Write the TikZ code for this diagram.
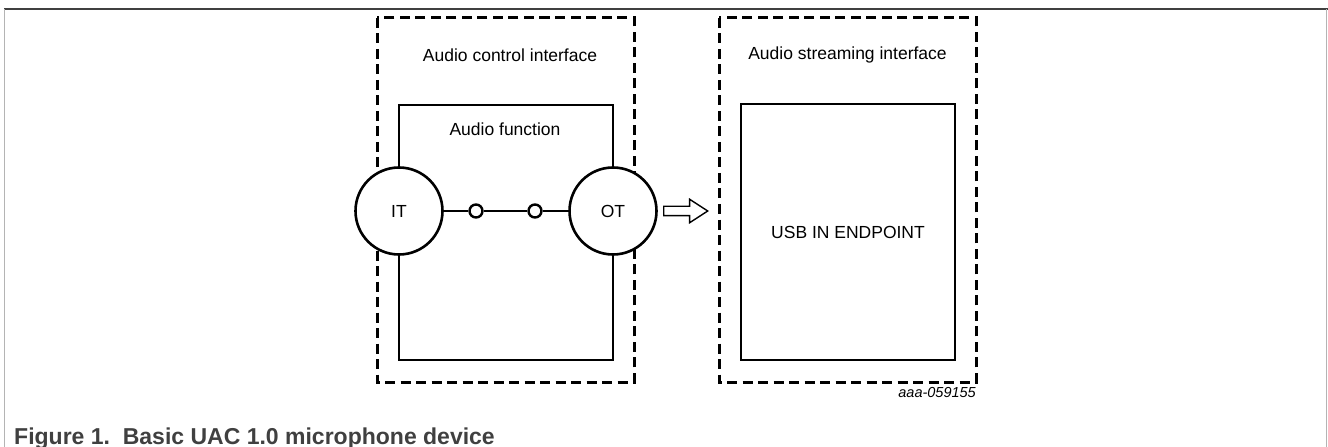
\documentclass[tikz,border=0pt]{standalone}
\usepackage{fontspec}
\setmainfont{Liberation Sans}
\usetikzlibrary{shapes.arrows}
\definecolor{framegray}{HTML}{404040}
\definecolor{sidegray}{HTML}{B4B4B4}
\definecolor{captiongray}{HTML}{404040}
\tikzset{
  dashbox/.style={draw, line width=3bp, dash pattern=on 10bp off 5.5bp},
  solidbox/.style={draw, line width=2.6bp},
  term/.style={circle, draw, fill=white, line width=2.6bp, minimum size=87bp, inner sep=0pt, font=\fontsize{17.5bp}{20bp}\selectfont},
  unit/.style={circle, draw, fill=white, line width=2.4bp, minimum size=13bp, inner sep=0pt},
  lbl/.style={inner sep=0pt, font=\fontsize{17.5bp}{20bp}\selectfont},
  link/.style={line width=1.4bp},
}
\begin{document}
\begin{tikzpicture}[x=1bp,y=-1bp]
\useasboundingbox (0,0) rectangle (1328,447);
% page frame
\draw[framegray, line width=1.8bp] (4,9) -- (1328,9);
\draw[sidegray, line width=1.8bp] (4.5,9) -- (4.5,447);
\draw[sidegray, line width=1.8bp] (1326.5,9) -- (1326.5,447);
% interfaces
\draw[dashbox] (377,18) rectangle (634,382);
\draw[dashbox] (719,18) rectangle (976,382);
\node[lbl] (aci) at (510,55) {Audio control interface};
\node[lbl] (asi) at (847.5,55) {Audio streaming interface};
% audio function box
\draw[solidbox] (399,105) rectangle (613,360);
\node[lbl] (af) at (505,129) {Audio function};
% endpoint box
\draw[solidbox] (741,104) rectangle (955,360);
\node[lbl] (ep) at (848,232) {USB IN ENDPOINT};
% terminals
\node[term] (IT) at (399,211) {IT};
\node[term] (OT) at (613,211) {OT};
\node[unit] (u1) at (476,211) {};
\node[unit] (u2) at (535,211) {};
\draw[link] (IT) -- (u1) -- (u2) -- (OT);
% hollow arrow
\node[single arrow, draw, line width=1.4bp, minimum height=44bp, minimum width=22bp,
      inner sep=4bp, single arrow head extend=7bp, single arrow tip angle=66,
      anchor=tail] (arr) at (663,211) {};
% id
\node[inner sep=0pt, anchor=east, font=\fontsize{14.5bp}{16bp}\selectfont\itshape] (id) at (976,393) {aaa-059155};
% caption
\node[inner sep=0pt, anchor=base west, text=captiongray, font=\fontsize{23bp}{25bp}\selectfont\bfseries] (cap) at (14,444) {Figure 1.\ \ Basic UAC 1.0 microphone device};
\end{tikzpicture}
\end{document}
